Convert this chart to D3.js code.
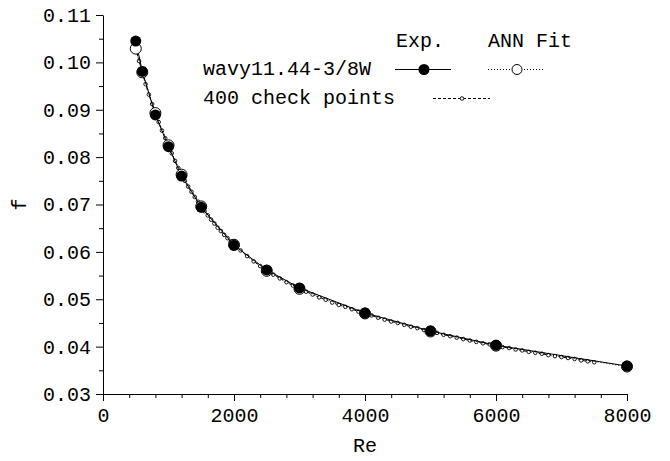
<!DOCTYPE html>
<html>
<head>
<meta charset="utf-8">
<script src="https://cdn.jsdelivr.net/npm/d3@7/dist/d3.min.js"></script>
<style>
  html, body { margin: 0; padding: 0; background: #fff; }
</style>
</head>
<body>
<svg id="chart" width="670" height="461"></svg>
<script>
// ---- data ----
const reExp = [500, 600, 800, 1000, 1200, 1500, 2000, 2500, 3000, 4000, 5000, 6000, 8000];
const fExp  = [0.1045, 0.0981, 0.0889, 0.0822, 0.0760, 0.0694, 0.0614, 0.0562, 0.0524, 0.0471, 0.0433, 0.0403, 0.0359];
const fAnn  = [0.1029, 0.0979, 0.0893, 0.0825, 0.0763, 0.0696, 0.0615, 0.0560, 0.0522, 0.0470, 0.0432, 0.0402, 0.0358];

const reCheck = [500, 550, 600, 650, 700, 750, 800, 850, 900, 950, 1000, 1050, 1100, 1150, 1200, 1250, 1300, 1350, 1400, 1450,
  1500, 1550, 1600, 1650, 1700, 1750, 1800, 1850, 1900, 1950, 2000, 2100, 2200, 2300, 2400, 2500, 2600, 2700, 2800, 2900,
  3000, 3100, 3200, 3300, 3400, 3500, 3600, 3700, 3800, 3900, 4000, 4100, 4200, 4300, 4400, 4500, 4600, 4700, 4800, 4900,
  5000, 5100, 5200, 5300, 5400, 5500, 5600, 5700, 5800, 5900, 6000, 6100, 6200, 6300, 6400, 6500, 6600, 6700, 6800, 6900,
  7000, 7100, 7200, 7300, 7400, 7500];
const fCheck = [0.1029, 0.1003, 0.0979, 0.0954, 0.0932, 0.0912, 0.0893, 0.0874, 0.0856, 0.0840, 0.0825, 0.0808, 0.0792, 0.0777, 0.0763, 0.0750, 0.0738, 0.0727, 0.0716, 0.0706,
  0.0696, 0.0686, 0.0677, 0.0668, 0.0660, 0.0651, 0.0644, 0.0636, 0.0629, 0.0622, 0.0615, 0.0603, 0.0591, 0.0580, 0.0570, 0.0560, 0.0552, 0.0544, 0.0536, 0.0529,
  0.0522, 0.0516, 0.0510, 0.0504, 0.0499, 0.0493, 0.0488, 0.0484, 0.0479, 0.0474, 0.0470, 0.0466, 0.0461, 0.0457, 0.0453, 0.0450, 0.0446, 0.0442, 0.0439, 0.0435,
  0.0432, 0.0429, 0.0425, 0.0422, 0.0419, 0.0416, 0.0413, 0.0410, 0.0407, 0.0405, 0.0402, 0.0399, 0.0397, 0.0394, 0.0392, 0.0389, 0.0387, 0.0385, 0.0382, 0.0380,
  0.0378, 0.0376, 0.0374, 0.0371, 0.0369, 0.0367];

const xMajorTicks = [0, 2000, 4000, 6000, 8000];
const xMinorTicks = [400, 800, 1200, 1600, 2400, 2800, 3200, 3600, 4400, 4800, 5200, 5600, 6400, 6800, 7200, 7600];
const yMajorTicks = [0.03, 0.04, 0.05, 0.06, 0.07, 0.08, 0.09, 0.10, 0.11];
const yMinorTicks = [0.035, 0.045, 0.055, 0.065, 0.075, 0.085, 0.095, 0.105];
const xTitle = "Re";
const yTitle = "f";
const legendHeaders = ["Exp.", "ANN Fit"];
const seriesNames = ["wavy11.44-3/8W", "400 check points"];

// ---- drawing ----
const FONT = "'Liberation Mono', 'Courier New', Courier, 'DejaVu Sans Mono', monospace";
const FS = 20;
const svg = d3.select("#chart").attr("font-family", FONT).style("font-family", FONT);
const styleText = sel => sel.style("font-family", FONT).style("font-size", FS + "px").attr("fill", "#000");

const x = d3.scaleLinear().domain([0, 8000]).range([103, 627]);
const y = d3.scaleLinear().domain([0.03, 0.11]).range([394, 15]);

// axes
const xAxis = d3.axisBottom(x).tickValues(xMajorTicks).tickFormat(d3.format("d")).tickSizeInner(7).tickSizeOuter(0).tickPadding(7);
const gx = svg.append("g").attr("transform", "translate(0,394)").call(xAxis);
gx.attr("font-family", null);
styleText(gx.selectAll(".tick text"));
gx.append("g").selectAll("line").data(xMinorTicks).join("line")
  .attr("x1", d => x(d) + 0.5).attr("x2", d => x(d) + 0.5).attr("y1", 0).attr("y2", 4)
  .attr("stroke", "#000");

const yAxis = d3.axisLeft(y).tickValues(yMajorTicks).tickFormat(d3.format(".2f")).tickSizeInner(7).tickSizeOuter(0).tickPadding(5);
const gy = svg.append("g").attr("transform", "translate(103,0)").call(yAxis);
gy.attr("font-family", null);
styleText(gy.selectAll(".tick text"));
gy.append("g").selectAll("line").data(yMinorTicks).join("line")
  .attr("y1", d => y(d) + 0.5).attr("y2", d => y(d) + 0.5).attr("x1", 0).attr("x2", -4)
  .attr("stroke", "#000");
svg.selectAll(".domain").attr("stroke", "#000");

// titles
styleText(svg.append("text").attr("x", (x.range()[0] + x.range()[1]) / 2).attr("y", 452)
  .attr("text-anchor", "middle").text(xTitle));
styleText(svg.append("text").attr("transform", "translate(26," + ((y.range()[0] + y.range()[1]) / 2) + ") rotate(-90)")
  .attr("text-anchor", "middle").text(yTitle));

// series
const expData = reExp.map((r, i) => ({ re: r, f: fExp[i] }));
const annData = reExp.map((r, i) => ({ re: r, f: fAnn[i] }));
const chkData = reCheck.map((r, i) => ({ re: r, f: fCheck[i] }));
const line = d3.line().x(d => x(d.re)).y(d => y(d.f));

// check points: dashed line with small circle markers
svg.append("path").datum(chkData).attr("d", line)
  .attr("fill", "none").attr("stroke", "#000").attr("stroke-width", 1).attr("stroke-dasharray", "3,2");
svg.append("g").selectAll("circle").data(chkData).join("circle")
  .attr("cx", d => x(d.re)).attr("cy", d => y(d.f)).attr("r", 1.8)
  .attr("fill", "#fff").attr("stroke", "#000").attr("stroke-width", 0.9);

// Exp solid line
svg.append("path").datum(expData).attr("d", line)
  .attr("fill", "none").attr("stroke", "#000").attr("stroke-width", 1);
// ANN dotted line
svg.append("path").datum(annData).attr("d", line)
  .attr("fill", "none").attr("stroke", "#000").attr("stroke-width", 1).attr("stroke-dasharray", "1,2");

// ANN open circles
svg.append("g").selectAll("circle").data(annData).join("circle")
  .attr("cx", d => x(d.re)).attr("cy", d => y(d.f)).attr("r", 5.5)
  .attr("fill", "#fff").attr("stroke", "#000").attr("stroke-width", 1);
// Exp filled circles
svg.append("g").selectAll("circle").data(expData).join("circle")
  .attr("cx", d => x(d.re)).attr("cy", d => y(d.f)).attr("r", 5.5)
  .attr("fill", "#000");

// legend
const lg = svg.append("g");
styleText(lg.append("text").attr("x", 420).attr("y", 47).attr("text-anchor", "middle").text(legendHeaders[0]));
styleText(lg.append("text").attr("x", 530).attr("y", 47).attr("text-anchor", "middle").text(legendHeaders[1]));
styleText(lg.append("text").attr("x", 203).attr("y", 75).text(seriesNames[0]));
styleText(lg.append("text").attr("x", 203).attr("y", 104).text(seriesNames[1]));
// Exp symbol
lg.append("line").attr("x1", 395).attr("x2", 451).attr("y1", 69.5).attr("y2", 69.5).attr("stroke", "#000");
lg.append("circle").attr("cx", 424).attr("cy", 69.5).attr("r", 5.5).attr("fill", "#000");
// ANN symbol
lg.append("line").attr("x1", 488).attr("x2", 543).attr("y1", 69.5).attr("y2", 69.5).attr("stroke", "#000").attr("stroke-dasharray", "1,2");
lg.append("circle").attr("cx", 517).attr("cy", 69.5).attr("r", 5).attr("fill", "#fff").attr("stroke", "#000");
// check symbol
lg.append("line").attr("x1", 433).attr("x2", 490).attr("y1", 98.5).attr("y2", 98.5).attr("stroke", "#000").attr("stroke-dasharray", "3,2");
lg.append("circle").attr("cx", 462).attr("cy", 98.5).attr("r", 1.8).attr("fill", "#fff").attr("stroke", "#000").attr("stroke-width", 0.9);
</script>
</body>
</html>
